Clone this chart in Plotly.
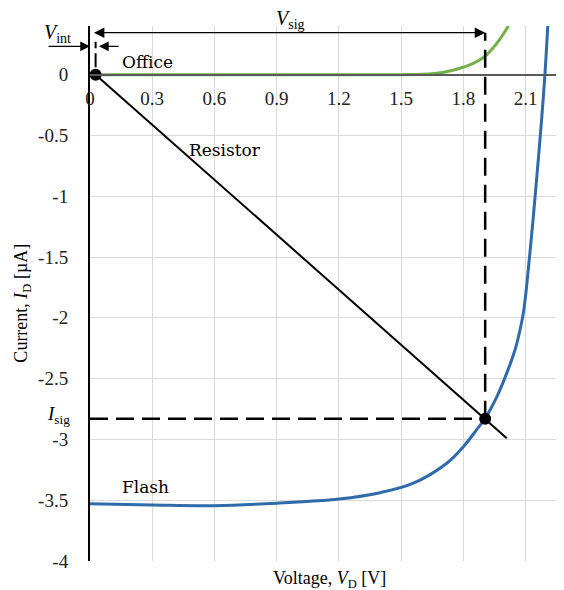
import plotly.graph_objects as go

# ---- data ----
flash_v = [0, 0.3, 0.6, 0.9, 1.2, 1.398, 1.559, 1.72, 1.80, 1.864, 1.905, 1.961, 2.009,
           2.049, 2.073, 2.089, 2.101, 2.113, 2.136, 2.157, 2.177, 2.193, 2.207]
flash_i = [-3.53, -3.54, -3.545, -3.525, -3.49, -3.438, -3.36, -3.196, -3.06, -2.92, -2.826, -2.65, -2.455,
           -2.263, -2.10, -1.96, -1.80, -1.60, -1.19, -0.78, -0.37, 0.0, 0.41]

office_v = [0, 0.3, 0.6, 0.9, 1.2, 1.5, 1.6, 1.7, 1.78, 1.85, 1.9, 1.96, 2.017]
office_i = [0, 0, 0, 0, 0, 0, 0.003, 0.018, 0.05, 0.095, 0.145, 0.255, 0.40]

resistor_v = [0.027, 2.009]
resistor_i = [0.0, -2.99]

v_int = 0.027
v_sig = 1.905
i_sig = -2.83
arrow_level = 0.345

x_ticks = [0, 0.3, 0.6, 0.9, 1.2, 1.5, 1.8, 2.1]
x_tick_text = ["0", "0.3", "0.6", "0.9", "1.2", "1.5", "1.8", "2.1"]
y_ticks = [0, -0.5, -1, -1.5, -2, -2.5, -3, -3.5, -4]
y_tick_text = ["0", "-0.5", "-1", "-1.5", "-2", "-2.5", "-3", "-3.5", "-4"]

x_range = [0, 2.285]
y_range = [-4, 0.4]

BLUE = "#2F6BAA"
GREEN = "#74B04A"
FONT = "Liberation Serif"
LABEL_FONT = "DejaVu Serif"

fig = go.Figure()

fig.add_trace(go.Scatter(x=office_v, y=office_i, mode="lines", line=dict(color=GREEN, width=3, shape="spline"),
                         hoverinfo="skip"))
fig.add_trace(go.Scatter(x=flash_v, y=flash_i, mode="lines", line=dict(color=BLUE, width=3, shape="spline"),
                         hoverinfo="skip"))
fig.add_trace(go.Scatter(x=resistor_v, y=resistor_i, mode="lines", line=dict(color="black", width=2),
                         hoverinfo="skip"))
# dashed guides
fig.add_trace(go.Scatter(x=[v_sig, v_sig], y=[i_sig, arrow_level], mode="lines",
                         line=dict(color="black", width=2.5, dash="18px,9px"), hoverinfo="skip"))
fig.add_trace(go.Scatter(x=[0, v_sig], y=[i_sig, i_sig], mode="lines",
                         line=dict(color="black", width=2.5, dash="18px,8px"), hoverinfo="skip"))
fig.add_trace(go.Scatter(x=[v_int, v_int], y=[0.06, 0.27], mode="lines",
                         line=dict(color="black", width=2, dash="14px,5px"), hoverinfo="skip"))
# operating points
fig.add_trace(go.Scatter(x=[v_int, v_sig], y=[0, i_sig], mode="markers",
                         marker=dict(color="black", size=12), hoverinfo="skip", cliponaxis=False))

ann = []
# V_sig double arrow
ann.append(dict(x=v_sig, y=arrow_level, ax=0.012, ay=arrow_level, xref="x", yref="y", axref="x", ayref="y",
                text="", showarrow=True, arrowhead=2, startarrowhead=2, arrowside="end+start",
                arrowsize=1.6, startarrowsize=1.6, arrowwidth=1.3, arrowcolor="black"))
ann.append(dict(x=0.422, y=1.016, xref="paper", yref="paper", yshift=12, showarrow=False,
                text="<i>V</i><sub>sig</sub>", font=dict(family=FONT, size=20, color="black")))
# V_int arrows
ann.append(dict(x=0.0, y=0.233, ax=-0.207, ay=0.233, xref="x", yref="y", axref="x", ayref="y",
                text="", showarrow=True, arrowhead=2, arrowsize=1.5, arrowwidth=1.3, arrowcolor="black"))
ann.append(dict(x=0.043, y=0.233, ax=0.145, ay=0.233, xref="x", yref="y", axref="x", ayref="y",
                text="", showarrow=True, arrowhead=2, arrowsize=1.5, arrowwidth=1.3, arrowcolor="black"))
ann.append(dict(x=-0.036, y=0.985, xref="paper", yref="paper", xanchor="right", yshift=15, showarrow=False,
                text="<i>V</i><sub>int</sub>", font=dict(family=FONT, size=20, color="black")))
# curve labels
ann.append(dict(x=0.277, y=0.107, xref="x", yref="y", showarrow=False, text="Office",
                font=dict(family=LABEL_FONT, size=17, color="black")))
ann.append(dict(x=0.65, y=-0.617, xref="x", yref="y", showarrow=False, text="Resistor",
                font=dict(family=LABEL_FONT, size=17, color="black")))
ann.append(dict(x=0.268, y=-3.39, xref="x", yref="y", showarrow=False, text="Flash",
                font=dict(family=LABEL_FONT, size=17, color="black")))
ann.append(dict(x=0, y=-2.80, xref="x", yref="y", xanchor="right", xshift=-18, showarrow=False,
                text="<i>I</i><sub>sig</sub>", font=dict(family=FONT, size=19, color="black")))
# axis titles
ann.append(dict(x=0.506, y=0, xref="paper", yref="paper", yanchor="top", yshift=-5, showarrow=False,
                text="Voltage, <i>V</i><sub>D</sub> [V]", font=dict(family=FONT, size=18, color="black")))
ann.append(dict(x=0, y=0.482, xref="paper", yref="paper", xshift=-81, showarrow=False, textangle=-90,
                text="Current, <i>I</i><sub>D</sub> [µA]", font=dict(family=FONT, size=18, color="black")))

zero_pos = (0 - y_range[0]) / (y_range[1] - y_range[0])

# the page body has an 8px margin, so the figure is sized to end at the window edge
fig.update_layout(
    width=556, height=582,
    margin=dict(l=82, r=0, t=18, b=29),
    paper_bgcolor="white", plot_bgcolor="white",
    showlegend=False,
    annotations=ann,
    xaxis=dict(range=x_range, tickvals=x_ticks, ticktext=x_tick_text, anchor="free", position=zero_pos,
               showgrid=True, gridcolor="#D9D9D9", gridwidth=1, zeroline=False,
               showline=True, linecolor="#595959", linewidth=1.5, ticks="", ticklabelstandoff=7,
               tickfont=dict(family=FONT, size=19, color="#222222")),
    yaxis=dict(range=y_range, tickvals=y_ticks, ticktext=y_tick_text,
               showgrid=True, gridcolor="#D9D9D9", gridwidth=1, zeroline=False,
               showline=True, linecolor="black", linewidth=2, ticks="", ticklabelstandoff=16,
               tickfont=dict(family=FONT, size=19, color="#222222")),
)

fig.write_html("out.html")
